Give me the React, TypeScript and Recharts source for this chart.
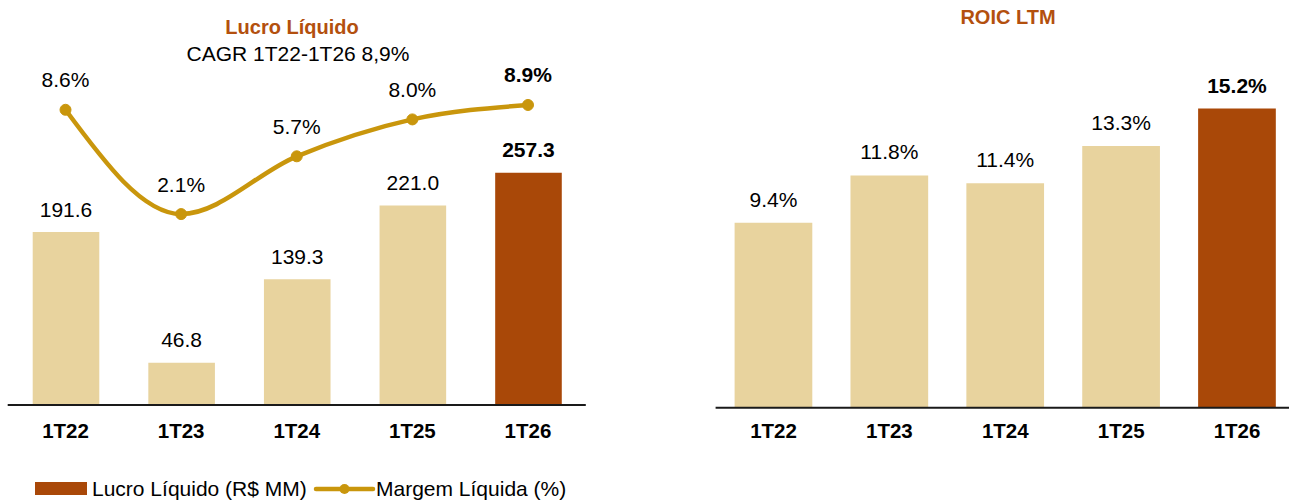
import React from 'react';
import { ComposedChart, BarChart, Bar, Line, XAxis, YAxis, Cell } from 'recharts';

const categories = ['1T22', '1T23', '1T24', '1T25', '1T26'];
const lucroLiquido = [191.6, 46.8, 139.3, 221.0, 257.3];
const margemLiquida = [8.6, 2.1, 5.7, 8.0, 8.9];
const roicLtm = [9.4, 11.8, 11.4, 13.3, 15.2];

const LIGHT = '#E8D39E';
const DARK = '#A94808';
const GOLD = '#C9960C';
const TITLE = '#B3500E';
const FONT = '"Liberation Sans", Arial, sans-serif';

const leftData = categories.map((c, i) => ({ cat: c, lucro: lucroLiquido[i], margem: margemLiquida[i] }));
const rightData = categories.map((c, i) => ({ cat: c, roic: roicLtm[i] }));

const last = categories.length - 1;

const barLabel = (fmt: (v: number) => string, gap: number) => (p: any) => {
  const { x, y, width, value, index } = p;
  return (
    <text
      key={`bl-${index}`}
      x={Number(x) + Number(width) / 2}
      y={Number(y) - gap}
      textAnchor="middle"
      fontFamily={FONT}
      fontSize={21}
      fontWeight={index === last ? 'bold' : 'normal'}
      fill="#000"
    >
      {fmt(Number(value))}
    </text>
  );
};

const lineLabel = (p: any) => {
  const { x, y, value, index } = p;
  return (
    <text
      key={`ll-${index}`}
      x={Number(x)}
      y={Number(y) - 22.5}
      textAnchor="middle"
      fontFamily={FONT}
      fontSize={21}
      fontWeight={index === last ? 'bold' : 'normal'}
      fill="#000"
    >
      {Number(value).toFixed(1) + '%'}
    </text>
  );
};

export default function App() {
  return (
    <div
      style={{
        position: 'absolute',
        left: 0,
        top: 0,
        width: 1289,
        height: 500,
        overflow: 'hidden',
        background: '#fff',
      }}
    >
      <div style={{ position: 'absolute', left: 0, top: 0 }}>
        <ComposedChart
          width={600}
          height={500}
          data={leftData}
          margin={{ top: 44, right: 14.2, bottom: 65, left: 7.7 }}
        >
          <XAxis
            dataKey="cat"
            height={30}
            tickLine={false}
            tickMargin={12}
            axisLine={{ stroke: '#1a1a1a', strokeWidth: 2 }}
            tick={{ fontFamily: FONT, fontSize: 20.5, fontWeight: 'bold', fill: '#000' }}
            interval={0}
          />
          <YAxis yAxisId="l" hide domain={[0, 400]} />
          <YAxis yAxisId="r" hide orientation="right" domain={[-9.8, 12.7]} />
          <Bar
            yAxisId="l"
            dataKey="lucro"
            barSize={66.6}
            isAnimationActive={false}
            label={barLabel((v) => v.toFixed(1), 15.5)}
          >
            {leftData.map((d, i) => (
              <Cell key={d.cat} fill={i === last ? DARK : LIGHT} />
            ))}
          </Bar>
          <Line
            yAxisId="r"
            type="monotone"
            dataKey="margem"
            stroke={GOLD}
            strokeWidth={4.5}
            dot={{ r: 5.5, fill: GOLD, stroke: GOLD, strokeWidth: 1 }}
            activeDot={false}
            isAnimationActive={false}
            label={lineLabel}
          />
        </ComposedChart>
      </div>
      <div style={{ position: 'absolute', left: 700, top: 0 }}>
        <BarChart
          width={610}
          height={500}
          data={rightData}
          margin={{ top: 53.4, right: 15, bottom: 62.3, left: 15.6 }}
        >
          <XAxis
            dataKey="cat"
            height={30}
            tickLine={false}
            tickMargin={10}
            axisLine={{ stroke: '#1a1a1a', strokeWidth: 2 }}
            tick={{ fontFamily: FONT, fontSize: 20.5, fontWeight: 'bold', fill: '#000' }}
            interval={0}
          />
          <YAxis hide domain={[0, 18]} />
          <Bar
            dataKey="roic"
            barSize={77.7}
            isAnimationActive={false}
            label={barLabel((v) => v.toFixed(1) + '%', 16)}
          >
            {rightData.map((d, i) => (
              <Cell key={d.cat} fill={i === last ? DARK : LIGHT} />
            ))}
          </Bar>
        </BarChart>
      </div>
      <svg
        width={1289}
        height={500}
        style={{ position: 'absolute', left: 0, top: 0, pointerEvents: 'none' }}
      >
        <text x={292} y={34} textAnchor="middle" fontFamily={FONT} fontSize={20} fontWeight="bold" fill={TITLE}>
          Lucro Líquido
        </text>
        <text x={298} y={60.5} textAnchor="middle" fontFamily={FONT} fontSize={21} fill="#000">
          CAGR 1T22-1T26 8,9%
        </text>
        <text x={1008} y={24} textAnchor="middle" fontFamily={FONT} fontSize={20} fontWeight="bold" fill={TITLE}>
          ROIC LTM
        </text>
        <rect x={35} y={482} width={52} height={13} fill={DARK} />
        <text x={92} y={496} fontFamily={FONT} fontSize={21} fill="#000">
          Lucro Líquido (R$ MM)
        </text>
        <line x1={316} y1={489} x2={373} y2={489} stroke={GOLD} strokeWidth={4.5} strokeLinecap="round" />
        <circle cx={344.5} cy={489} r={5} fill={GOLD} />
        <text x={376} y={496} fontFamily={FONT} fontSize={21} fill="#000">
          Margem Líquida (%)
        </text>
      </svg>
    </div>
  );
}
